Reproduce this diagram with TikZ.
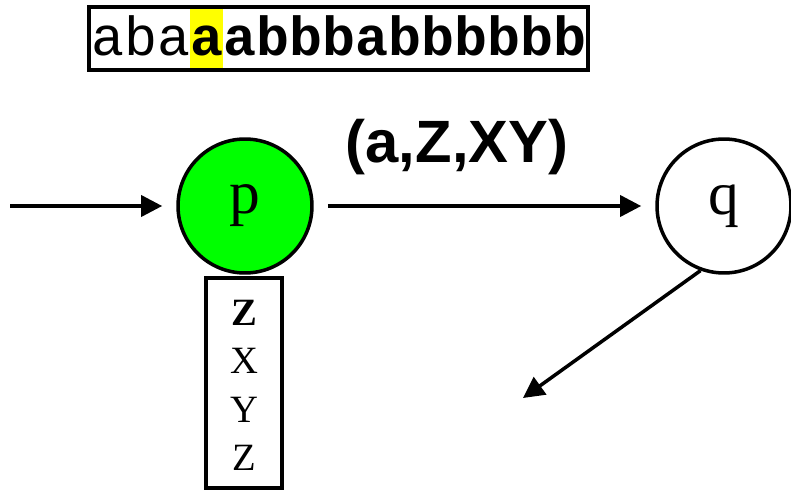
\documentclass[tikz,border=0pt]{standalone}
\usepackage{fontspec}
\setmainfont{Liberation Serif}
\setsansfont{Liberation Sans}
\setmonofont{Liberation Mono}
\usetikzlibrary{arrows.meta}
\definecolor{stategreen}{RGB}{0,255,0}
\definecolor{headyellow}{RGB}{255,255,0}
\tikzset{
    state/.style={circle, draw, line width=2pt, minimum size=2.68cm, inner sep=0pt,
        font=\fontsize{35}{35}\selectfont},
    stackcell/.style={inner sep=0pt, font=\fontsize{22}{22}\selectfont}
}
\begin{document}
\begin{tikzpicture}[x=0.02cm, y=-0.02cm, line width=2pt,
    >={Triangle[length=12pt, width=12pt]}]
\useasboundingbox (0,0) rectangle (791,490);
% input tape, head on the fourth cell
\fill[headyellow] (190,8) rectangle (223,70);
\node[anchor=base west, inner sep=0pt, font=\ttfamily\fontsize{31.3}{31.3}\selectfont]
    (tape) at (90,55) {aba\textbf{aabbbabbbbbb}};
\draw (89,7) rectangle (588,70);
% states
\node[state, fill=stategreen] (p) at (245,206) {p};
\node[state] (q) at (724,206) {q};
\coordinate (start) at (10,206);
\coordinate (qout) at (523,398);
\draw[->, shorten >=8pt] (start) -- (p);
\draw[->, shorten <=8pt, shorten >=8pt] (p) -- (q);
\draw[->] (q.250) -- (qout);
\node[font=\sffamily\bfseries\fontsize{34}{34}\selectfont] (label) at (457,147) {(a,Z,XY)};
% stack
\node[draw, minimum width=1.52cm, minimum height=4.2cm, inner sep=0pt] (stack) at (244,383) {};
\foreach \s/\y in {\textbf{Z}/313, X/361, Y/410, Z/458}{
    \node[stackcell] at (244,\y) {\s};
}
\end{tikzpicture}
\end{document}
